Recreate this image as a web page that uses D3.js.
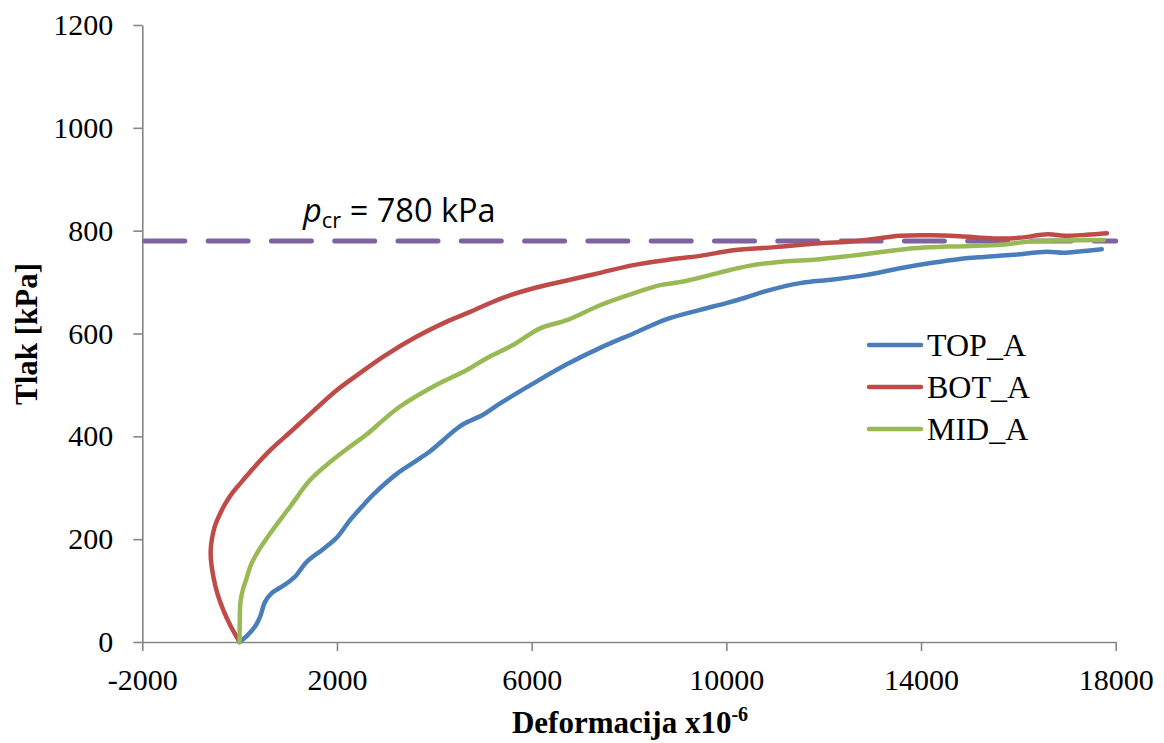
<!DOCTYPE html>
<html>
<head>
<meta charset="utf-8">
<script src="https://cdn.jsdelivr.net/npm/d3@7"></script>
<style>
  html, body { margin: 0; padding: 0; background: #ffffff; }
  svg { display: block; }
</style>
</head>
<body>
<svg id="chart" width="1164" height="743"></svg>
<script>
// ---------------- data ----------------
const xTicks = [-2000, 2000, 6000, 10000, 14000, 18000];
const yTicks = [0, 200, 400, 600, 800, 1000, 1200];
const seriesNames = ["TOP_A", "BOT_A", "MID_A"];

const topX = [0, 150, 316, 419, 522, 659, 820, 968, 1138, 1379, 1720, 1995, 2269, 2560, 2748, 3228, 3570, 3913, 4186, 4420, 4600, 5000, 5351, 6036, 6722, 7406, 8091, 8777, 9462, 10000, 10400, 10831, 11516, 12200, 12886, 13571, 14200, 14800, 15300, 15900, 16586, 16927, 17300, 17715];
const topY = [0, 12, 30, 49, 78, 95, 105, 114, 127, 156, 181, 203, 237, 268, 287, 327, 349, 371, 393, 412, 424, 442, 464, 503, 540, 572, 600, 628, 646, 659, 670, 683, 698, 705, 714, 727, 737, 745, 749, 753, 759, 757, 760, 764];

const botX = [0, -180, -335, -460, -540, -590, -594, -570, -510, -400, -300, -150, 0, 300, 650, 1036, 1500, 2000, 2400, 2954, 3639, 4324, 4735, 5365, 6036, 6722, 7406, 8091, 8777, 9462, 10146, 11000, 11859, 12700, 13571, 14200, 14800, 15500, 16000, 16600, 16950, 17400, 17819];
const botY = [0, 30, 62, 95, 127, 160, 180, 200, 225, 250, 268, 290, 307, 340, 375, 408, 448, 490, 518, 555, 594, 626, 642, 668, 688, 703, 718, 733, 743, 751, 762, 768, 775, 780, 790, 791, 789, 785, 786, 793, 790, 792, 795];

const midX = [0, 2, 20, 76, 146, 214, 282, 351, 625, 1036, 1447, 1858, 2269, 2600, 2954, 3296, 3981, 4666, 5078, 5625, 6173, 6722, 7406, 8091, 8640, 9118, 9804, 10489, 11173, 11859, 12543, 13228, 13846, 14531, 15558, 16244, 16927, 17750];
const midY = [0, 40, 80, 105, 125, 146, 160, 172, 211, 263, 315, 350, 380, 403, 432, 458, 497, 529, 552, 578, 610, 626, 655, 678, 694, 701, 717, 732, 740, 744, 751, 759, 766, 769, 772, 779, 781, 782];

const pCr = 780;
const xDomain = [-2000, 18000];
const yDomain = [0, 1200];

// ---------------- drawing ----------------
const colors = { TOP_A: "#4A7EBB", BOT_A: "#BE4B48", MID_A: "#98B954" };
const axisColor = "#868686";
const serif = "'Liberation Serif', 'Times New Roman', serif";
const sans = "'Open Sans', 'Liberation Sans', sans-serif";

const svg = d3.select("#chart");
svg.append("rect").attr("width", 1164).attr("height", 743).attr("fill", "#ffffff");

const x = d3.scaleLinear().domain(xDomain).range([142.3, 1115.7]);
const y = d3.scaleLinear().domain(yDomain).range([642, 25]);

// axes
const yAxis = svg.append("g").attr("transform", `translate(${x(-2000)},0)`)
  .call(d3.axisLeft(y).tickValues(yTicks).tickSize(9).tickSizeOuter(0).tickPadding(20).tickFormat(d => String(d)));
const xAxis = svg.append("g").attr("transform", `translate(0,${y(0)})`)
  .call(d3.axisBottom(x).tickValues(xTicks).tickSize(9).tickSizeOuter(0).tickFormat(d => String(d)));

[yAxis, xAxis].forEach(g => {
  g.select(".domain").attr("stroke", axisColor).attr("stroke-width", 1.6);
  g.selectAll(".tick line").attr("stroke", axisColor).attr("stroke-width", 1.6);
  g.selectAll(".tick text").attr("fill", "#000").style("font-family", serif).style("font-size", "30px");
});
xAxis.selectAll(".tick text").attr("y", 48).attr("dy", 0);

// critical pressure dashed line
svg.append("line")
  .attr("x1", x(-2000) + 2.5).attr("x2", x(18000))
  .attr("y1", y(pCr)).attr("y2", y(pCr))
  .attr("stroke", "#7F63A1").attr("stroke-width", 5)
  .attr("stroke-linecap", "round")
  .attr("stroke-dasharray", "40,23.3");

// series lines
const line = d3.line().x(d => x(d[0])).y(d => y(d[1])).curve(d3.curveCatmullRom.alpha(0.5));
const seriesData = [
  { name: "TOP_A", xs: topX, ys: topY },
  { name: "BOT_A", xs: botX, ys: botY },
  { name: "MID_A", xs: midX, ys: midY }
];
seriesData.forEach(s => {
  const pts = s.xs.map((v, i) => [v, s.ys[i]]);
  svg.append("path").datum(pts)
    .attr("d", line)
    .attr("fill", "none")
    .attr("stroke", colors[s.name])
    .attr("stroke-width", 4.5)
    .attr("stroke-linejoin", "round")
    .attr("stroke-linecap", "round");
});

// annotation
const ann = svg.append("text").attr("x", 303).attr("y", 222)
  .style("font-family", sans).style("font-size", "32.5px").attr("fill", "#000");
ann.append("tspan").text("p").style("font-style", "italic");
ann.append("tspan").text("cr").style("font-size", "22px").attr("dy", 6);
ann.append("tspan").text(" = 780 kPa").attr("dy", -6);

// legend
const legY = [345, 387, 429];
seriesNames.forEach((n, i) => {
  svg.append("line").attr("x1", 869).attr("x2", 921).attr("y1", legY[i]).attr("y2", legY[i])
    .attr("stroke", colors[n]).attr("stroke-width", 4.5).attr("stroke-linecap", "round");
  svg.append("text").attr("x", 927).attr("y", legY[i] + 11)
    .style("font-family", serif).style("font-size", "32px").attr("fill", "#000").text(n);
});

// axis titles
svg.append("text")
  .attr("transform", "translate(37,334) rotate(-90)")
  .attr("text-anchor", "middle")
  .style("font-family", serif).style("font-size", "31px").style("font-weight", "bold")
  .text("Tlak [kPa]");

const xt = svg.append("text").attr("x", 630).attr("y", 733).attr("text-anchor", "middle")
  .style("font-family", serif).style("font-size", "31px").style("font-weight", "bold");
xt.append("tspan").text("Deformacija x10");
xt.append("tspan").text("-6").style("font-size", "20px").attr("dy", -12);
</script>
</body>
</html>
